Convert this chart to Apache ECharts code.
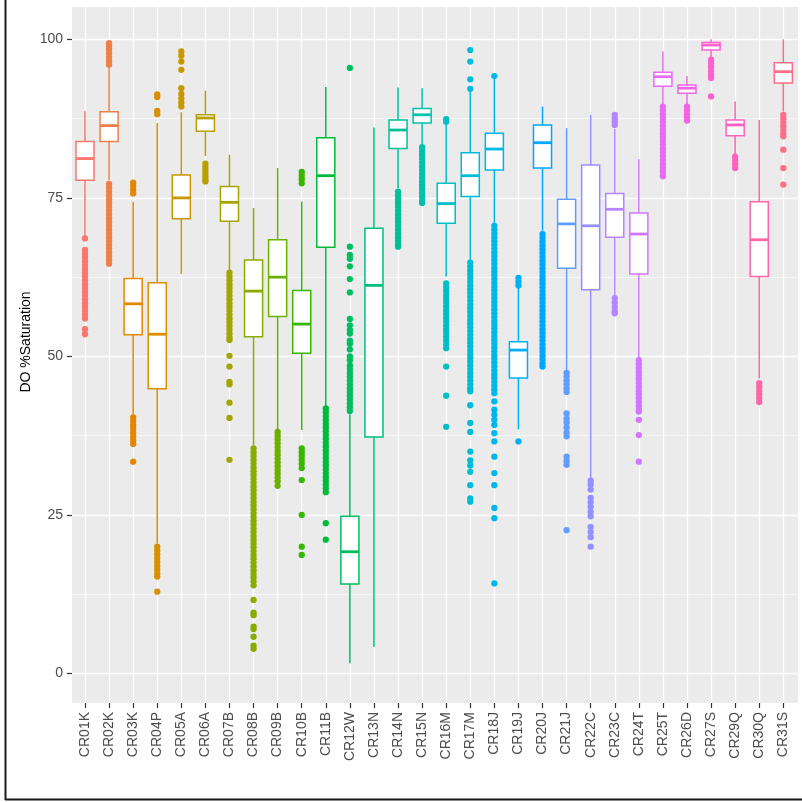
<!DOCTYPE html>
<html>
<head>
<meta charset="utf-8">
<script src="https://cdn.jsdelivr.net/npm/echarts@6/dist/echarts.min.js"></script>
<style>
html,body{margin:0;padding:0;background:#fff;}
#c{width:802px;height:802px;}
</style>
</head>
<body>
<div id="c"></div>
<script>
const categories = ['CR01K','CR02K','CR03K','CR04P','CR05A','CR06A','CR07B','CR08B','CR09B','CR10B',
  'CR11B','CR12W','CR13N','CR14N','CR15N','CR16M','CR17M','CR18J','CR19J','CR20J',
  'CR21J','CR22C','CR23C','CR24T','CR25T','CR26D','CR27S','CR29Q','CR30Q','CR31S'];

const whiskerLow  = [69.0, 77.8, 40.8, 20.5, 63.0, 81.6, 63.5, 36.0, 38.4, 38.4,
  42.1, 1.6, 4.2, 76.5, 83.5, 62.6, 65.0, 71.0, 38.5, 69.8,
  47.8, 30.8, 59.6, 49.8, 89.8, 89.8, 96.9, 81.8, 46.5, 88.6];
const q1          = [77.8, 83.9, 53.4, 44.9, 71.7, 85.5, 71.3, 53.1, 56.3, 50.5,
  67.2, 14.1, 37.3, 82.8, 86.8, 71.0, 75.2, 79.4, 46.6, 79.7,
  63.9, 60.5, 68.8, 63.0, 92.6, 91.5, 98.3, 84.8, 62.6, 93.1];
const median      = [81.2, 86.4, 58.3, 53.5, 75.0, 87.6, 74.3, 60.3, 62.5, 55.1,
  78.5, 19.2, 61.2, 85.7, 88.1, 74.1, 78.5, 82.7, 51.0, 83.7,
  70.9, 70.6, 73.2, 69.3, 94.1, 92.3, 99.1, 86.5, 68.4, 94.9];
const q3          = [83.9, 88.6, 62.3, 61.6, 78.6, 88.1, 76.8, 65.2, 68.4, 60.4,
  84.5, 24.8, 70.2, 87.3, 89.1, 77.3, 82.1, 85.2, 52.3, 86.5,
  74.8, 80.2, 75.7, 72.6, 94.8, 92.8, 99.5, 87.3, 74.4, 96.3];
const whiskerHigh = [88.7, 95.6, 74.4, 86.8, 88.5, 91.9, 81.8, 73.4, 79.7, 74.4,
  92.5, 40.9, 86.1, 92.4, 92.3, 86.5, 91.8, 93.9, 60.8, 89.4,
  86.0, 88.1, 85.9, 81.1, 98.1, 94.2, 100.0, 90.2, 87.3, 100.0];

const outliers = [
  [68.6, 66.8, 66.2, 65.6, 65.0, 64.4, 63.8, 63.2, 62.6, 62.0, 61.4, 60.8, 60.2, 59.6, 59.0, 58.4, 57.8, 57.2, 56.6, 56.0, 54.3, 53.5],
  [99.4, 98.9, 98.4, 97.8, 97.2, 96.6, 96.0, 77.2, 76.6, 76.0, 75.4, 74.8, 74.2, 73.6, 73.0, 72.4, 71.8, 71.2, 70.6, 70.0, 69.4, 68.8, 68.2, 67.6, 67.0, 66.4, 65.8, 65.2, 64.6],
  [77.4, 76.9, 76.3, 75.7, 40.4, 39.8, 39.2, 38.6, 38.0, 37.4, 36.8, 36.2, 33.4],
  [91.3, 90.9, 88.7, 88.2, 20.0, 19.4, 18.8, 18.2, 17.6, 17.0, 16.4, 15.8, 15.3, 12.9],
  [98.1, 97.4, 96.5, 95.2, 92.3, 91.4, 90.7, 90.0, 89.4],
  [80.4, 79.9, 79.4, 78.9, 78.4, 77.9, 77.6],
  [63.2, 62.6, 62.0, 61.4, 60.8, 60.2, 59.6, 59.0, 58.4, 57.8, 57.2, 56.6, 56.0, 55.4, 54.8, 54.2, 53.6, 53.0, 52.6, 50.1, 48.4, 46.0, 45.6, 42.7, 40.3, 33.7],
  [35.5, 34.9, 34.3, 33.7, 33.1, 32.5, 31.9, 31.3, 30.7, 30.1, 29.5, 28.9, 28.3, 27.7, 27.1, 26.5, 25.9, 25.3, 24.7, 24.1, 23.5, 22.9, 22.3, 21.7, 21.1, 20.5, 19.9, 19.3, 18.7, 18.1, 17.5, 16.9, 16.3, 15.7, 15.1, 14.5, 13.9, 11.6, 9.6, 9.2, 7.4, 7.0, 5.8, 4.4, 3.9],
  [38.1, 37.5, 36.9, 36.3, 35.7, 35.1, 34.5, 33.9, 33.3, 32.7, 32.1, 31.5, 30.9, 30.3, 29.6],
  [79.1, 78.5, 77.9, 77.3, 35.5, 34.9, 34.3, 33.7, 33.1, 32.4, 30.5, 25.0, 20.0, 18.7],
  [41.8, 41.2, 40.6, 40.0, 39.4, 38.8, 38.2, 37.6, 37.0, 36.4, 35.8, 35.2, 34.6, 34.0, 33.4, 32.8, 32.2, 31.6, 31.0, 30.4, 29.8, 29.2, 28.6, 23.7, 21.1],
  [95.5, 67.3, 66.0, 65.4, 64.2, 62.2, 60.1, 55.9, 54.9, 54.2, 53.6, 52.5, 52.0, 51.1, 50.0, 49.4, 48.6, 48.0, 47.4, 46.8, 46.2, 45.6, 45.0, 44.4, 43.8, 43.2, 42.6, 42.0, 41.4],
  [],
  [76.0, 75.4, 74.8, 74.2, 73.6, 73.0, 72.4, 71.8, 71.2, 70.6, 70.0, 69.4, 68.8, 68.2, 67.6, 67.3],
  [83.0, 82.4, 81.8, 81.2, 80.6, 80.0, 79.4, 78.8, 78.2, 77.6, 77.0, 76.4, 75.8, 75.2, 74.6, 74.2],
  [87.4, 87.0, 61.5, 60.9, 60.3, 59.7, 59.1, 58.5, 57.9, 57.3, 56.7, 56.1, 55.5, 54.9, 54.3, 53.7, 53.1, 52.5, 51.9, 51.3, 48.4, 43.8, 38.9],
  [98.3, 96.5, 93.7, 92.2, 64.8, 64.2, 63.6, 63.0, 62.4, 61.8, 61.2, 60.6, 60.0, 59.4, 58.8, 58.2, 57.6, 57.0, 56.4, 55.8, 55.2, 54.6, 54.0, 53.4, 52.8, 52.2, 51.6, 51.0, 50.4, 49.8, 49.2, 48.6, 48.0, 47.4, 46.8, 46.2, 45.6, 45.0, 44.5, 42.3, 39.5, 38.1, 35.0, 33.6, 32.8, 31.8, 29.7, 27.6, 27.1],
  [94.2, 70.6, 70.0, 69.4, 68.8, 68.2, 67.6, 67.0, 66.4, 65.8, 65.2, 64.6, 64.0, 63.4, 62.8, 62.2, 61.6, 61.0, 60.4, 59.8, 59.2, 58.6, 58.0, 57.4, 56.8, 56.2, 55.6, 55.0, 54.4, 53.8, 53.2, 52.6, 52.0, 51.4, 50.8, 50.2, 49.6, 49.0, 48.4, 47.8, 47.2, 46.6, 46.0, 45.4, 44.8, 44.2, 42.9, 41.6, 40.8, 40.0, 39.2, 37.9, 36.6, 34.2, 31.6, 29.7, 26.1, 24.5, 14.2],
  [62.4, 61.8, 61.2, 36.6],
  [69.3, 68.7, 68.1, 67.5, 66.9, 66.3, 65.7, 65.1, 64.5, 63.9, 63.3, 62.7, 62.1, 61.5, 60.9, 60.3, 59.7, 59.1, 58.5, 57.9, 57.3, 56.7, 56.1, 55.5, 54.9, 54.3, 53.7, 53.1, 52.5, 51.9, 51.3, 50.7, 50.1, 49.5, 48.9, 48.4],
  [47.4, 46.8, 46.2, 45.6, 45.0, 44.4, 41.0, 40.2, 39.6, 38.8, 38.0, 37.4, 34.2, 33.5, 32.9, 22.6],
  [30.4, 29.8, 29.0, 27.7, 27.0, 26.3, 25.5, 24.8, 23.1, 22.3, 21.5, 20.0],
  [88.1, 87.5, 87.0, 86.5, 59.2, 58.5, 57.8, 57.1, 56.8],
  [49.4, 48.8, 48.2, 47.6, 47.0, 46.4, 45.8, 45.2, 44.6, 44.0, 43.4, 42.8, 42.2, 41.6, 41.3, 40.0, 37.6, 33.4],
  [89.4, 88.8, 88.2, 87.6, 87.0, 86.4, 85.8, 85.2, 84.6, 84.0, 83.4, 82.8, 82.2, 81.6, 81.0, 80.4, 79.8, 79.2, 78.6, 78.4],
  [89.4, 88.8, 88.2, 87.7, 87.2],
  [96.8, 96.2, 95.6, 95.0, 94.4, 93.9, 91.0],
  [81.5, 80.9, 80.3, 79.7],
  [45.8, 45.2, 44.6, 44.0, 43.4, 42.8],
  [88.1, 87.5, 86.9, 86.3, 85.7, 85.1, 84.7, 82.6, 79.7, 77.1]
];

const yTicks = [0, 25, 50, 75, 100];
const yTitle = 'DO %Saturation';

// ggplot2 default hue palette (HCL, l=65, c=100)
function hclHex(h) {
  const L = 65, C = 100, hr = h * Math.PI / 180;
  const U = C * Math.cos(hr), V = C * Math.sin(hr);
  const Y = Math.pow((L + 16) / 116, 3);
  const Xn = 0.95047, Yn = 1, Zn = 1.08883;
  const den = Xn + 15 * Yn + 3 * Zn;
  const un = 4 * Xn / den, vn = 9 * Yn / den;
  const u = U / (13 * L) + un, v = V / (13 * L) + vn;
  const X = Y * 9 * u / (4 * v), Z = Y * (12 - 3 * u - 20 * v) / (4 * v);
  const lin = [
    3.2404542 * X - 1.5371385 * Y - 0.4985314 * Z,
    -0.9692660 * X + 1.8760108 * Y + 0.0415560 * Z,
    0.0556434 * X - 0.2040259 * Y + 1.0572252 * Z
  ];
  return '#' + lin.map(c => {
    let g = c <= 0.0031308 ? 12.92 * c : 1.055 * Math.pow(c, 1 / 2.4) - 0.055;
    g = Math.max(0, Math.min(1, g));
    return Math.round(g * 255).toString(16).padStart(2, '0');
  }).join('');
}
const n = categories.length;
const colors = categories.map((_, i) => hclHex(15 + 360 * i / n));

const boxData = categories.map((_, i) => [i, whiskerLow[i], q1[i], median[i], q3[i], whiskerHigh[i]]);
const outlierData = [];
outliers.forEach((arr, i) => arr.forEach(v => outlierData.push([i, v])));

const FONT = '"Liberation Sans", Arial, sans-serif';
const chart = echarts.init(document.getElementById('c'), null, {renderer: 'canvas'});

chart.setOption({
  animation: false,
  backgroundColor: '#ffffff',
  textStyle: {fontFamily: FONT},
  grid: [
    {left: 72, top: 7, width: 726, height: 696, show: true, backgroundColor: '#EBEBEB', borderWidth: 0},
    {left: 85, top: 7, width: 698.32, height: 696, show: false},
    {left: 72, top: 39.34, width: 726, height: 634.17, show: false}
  ],
  xAxis: [
    {gridIndex: 0, type: 'value', min: -0.54, max: 29.61, show: false},
    {gridIndex: 1, type: 'value', min: 0, max: n - 1, interval: 1,
      axisLine: {show: false},
      axisTick: {show: true, length: 5, lineStyle: {color: '#333333', width: 1.2}},
      axisLabel: {show: true, rotate: 90, margin: 9, color: '#4D4D4D', fontSize: 14, fontFamily: FONT,
        formatter: v => categories[Math.round(v)] || ''},
      splitLine: {show: true, lineStyle: {color: '#FFFFFF', width: 1.3}}
    },
    {gridIndex: 2, type: 'value', show: false}
  ],
  yAxis: [
    {gridIndex: 0, type: 'value', min: -4.65, max: 105.1, show: false},
    {gridIndex: 1, type: 'value', show: false},
    {gridIndex: 2, type: 'value', min: yTicks[0], max: yTicks[yTicks.length - 1], interval: 25,
      axisLine: {show: false},
      axisTick: {show: true, length: 5, lineStyle: {color: '#333333', width: 1.2}},
      axisLabel: {show: true, margin: 9, color: '#4D4D4D', fontSize: 14, fontFamily: FONT},
      splitLine: {show: true, lineStyle: {color: '#FFFFFF', width: 1.3}},
      minorTick: {show: false, splitNumber: 2},
      minorSplitLine: {show: true, lineStyle: {color: '#FFFFFF', width: 0.6}}
    }
  ],
  graphic: [
    {type: 'line', silent: true, shape: {x1: 5.5, y1: 0, x2: 5.5, y2: 800}, style: {stroke: '#1a1a1a', lineWidth: 2}},
    {type: 'line', silent: true, shape: {x1: 5, y1: 799.5, x2: 802, y2: 799.5}, style: {stroke: '#1a1a1a', lineWidth: 2}},
    {type: 'text', silent: true, x: 26, y: 342, rotation: Math.PI / 2,
      style: {text: yTitle, font: '14px ' + FONT, fill: '#000000', align: 'center', verticalAlign: 'middle'}}
  ],
  series: [
    {
      type: 'scatter', xAxisIndex: 0, yAxisIndex: 0, z: 3,
      symbol: 'circle', symbolSize: 6.3,
      data: outlierData,
      itemStyle: {color: p => colors[p.data[0]], opacity: 1},
      silent: true
    },
    {
      type: 'custom', xAxisIndex: 0, yAxisIndex: 0, z: 4,
      data: boxData,
      encode: {x: 0, y: [1, 2, 3, 4, 5]},
      silent: true,
      renderItem: function (params, api) {
        const i = api.value(0);
        const col = colors[i];
        const x = api.coord([i, 0])[0];
        const w = api.size([1, 0])[0] * 0.75;
        const yLo = api.coord([i, api.value(1)])[1];
        const yQ1 = api.coord([i, api.value(2)])[1];
        const yMed = api.coord([i, api.value(3)])[1];
        const yQ3 = api.coord([i, api.value(4)])[1];
        const yHi = api.coord([i, api.value(5)])[1];
        const lw = 1.5;
        return {
          type: 'group',
          children: [
            {type: 'line', shape: {x1: x, y1: yHi, x2: x, y2: yQ3}, style: {stroke: col, lineWidth: lw}},
            {type: 'line', shape: {x1: x, y1: yQ1, x2: x, y2: yLo}, style: {stroke: col, lineWidth: lw}},
            {type: 'rect', shape: {x: x - w / 2, y: yQ3, width: w, height: yQ1 - yQ3},
              style: {fill: '#FFFFFF', stroke: col, lineWidth: lw}},
            {type: 'line', shape: {x1: x - w / 2, y1: yMed, x2: x + w / 2, y2: yMed},
              style: {stroke: col, lineWidth: 2.8}}
          ]
        };
      }
    }
  ]
});
</script>
</body>
</html>
